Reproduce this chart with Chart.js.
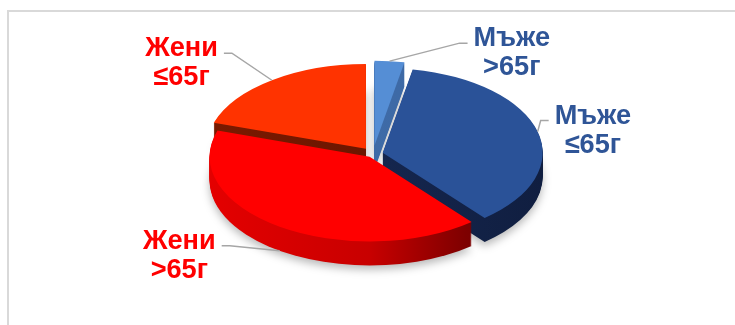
<!DOCTYPE html>
<html>
<head>
  <meta charset="utf-8">
  <script src="https://cdn.jsdelivr.net/npm/chart.js@4.4.1/dist/chart.umd.min.js"></script>
  <style>
    html, body { margin: 0; padding: 0; background: #fff; }
    #wrap { position: relative; width: 735px; height: 325px; overflow: hidden; }
    #frame {
      position: absolute; left: 7px; top: 10px; width: 800px; height: 400px;
      border-left: 2px solid #d9d9d9; border-top: 2px solid #d9d9d9;
    }
    #myChart { position: absolute; left: 0; top: 0; }
  </style>
</head>
<body>
  <div id="wrap">
    <div id="frame"></div>
    <canvas id="myChart" width="735" height="325"></canvas>
  </div>
  <script>
    // data
    var categories = ["Мъже >65г", "Мъже ≤65г", "Жени >65г", "Жени ≤65г"];
    var labelLines = [["Мъже", ">65г"], ["Мъже", "≤65г"], ["Жени", ">65г"], ["Жени", "≤65г"]];
    var shares = [3, 36, 41, 20];

    // styles
    var topColors = ["#558ED5", "#2A5298", "#FF0000", "#FF3300"];
    var textColors = ["#2F5597", "#2F5597", "#FF0000", "#FF0000"];

    var pie3d = {
      id: "pie3d",
      beforeDatasetsDraw: function (chart, args, opts) {
        var ctx = chart.ctx;
        var arcs = chart.getDatasetMeta(0).data;
        var cx = arcs[0].x, cy = arcs[0].y, r = arcs[0].outerRadius;
        var k = opts.tilt;

        var shift = arcs.map(function (a, i) {
          var mid = (a.startAngle + a.endAngle) / 2;
          return { x: Math.cos(mid) * opts.explode[i], y: Math.sin(mid) * opts.explode[i] };
        });

        // side walls
        var walls = opts.walls.map(function (stops) {
          var g = ctx.createLinearGradient(cx - r, 0, cx + r, 0);
          stops.forEach(function (s) { g.addColorStop(s[0], s[1]); });
          return g;
        });
        for (var d = opts.depth; d >= 1; d--) {
          ctx.save();
          ctx.translate(cx, cy + d);
          ctx.scale(1, k);
          ctx.translate(-cx, -cy);
          if (d === opts.depth) {
            ctx.shadowColor = "rgba(0,0,0,0.28)";
            ctx.shadowBlur = 9;
            ctx.shadowOffsetY = 4;
          }
          arcs.forEach(function (a, i) {
            ctx.save();
            ctx.translate(shift[i].x, shift[i].y);
            ctx.beginPath();
            ctx.moveTo(cx, cy);
            ctx.arc(cx, cy, a.outerRadius, a.startAngle, a.endAngle);
            ctx.closePath();
            ctx.fillStyle = walls[i];
            ctx.fill();
            ctx.restore();
          });
          ctx.restore();
        }

        // top faces
        ctx.save();
        ctx.translate(cx, cy);
        ctx.scale(1, k);
        ctx.translate(-cx, -cy);
        arcs.forEach(function (a, i) {
          ctx.save();
          ctx.translate(shift[i].x, shift[i].y);
          a.draw(ctx);
          ctx.restore();
        });
        ctx.restore();
        return false;
      },
      afterDraw: function (chart, args, opts) {
        var ctx = chart.ctx;
        var arcs = chart.getDatasetMeta(0).data;
        var k = opts.tilt;
        ctx.save();
        arcs.forEach(function (a, i) {
          var mid = (a.startAngle + a.endAngle) / 2;
          var rr = a.outerRadius + opts.explode[i];
          var ax = a.x + Math.cos(mid) * rr;
          var ay = a.y + Math.sin(mid) * rr * k + (Math.sin(mid) > 0.3 ? opts.depth : 0);
          var ex = ax + opts.elbows[i][0];
          var ey = ay + opts.elbows[i][1];
          var right = ex > a.x;
          var hx = ex + (right ? 8 : -8);

          ctx.strokeStyle = "#A6A6A6";
          ctx.lineWidth = 1.5;
          ctx.beginPath();
          ctx.moveTo(ax, ay);
          ctx.lineTo(ex, ey);
          ctx.lineTo(hx, ey);
          ctx.stroke();

          ctx.font = "bold 28px 'Liberation Sans', Arial, sans-serif";
          ctx.fillStyle = textColors[i];
          ctx.textBaseline = "alphabetic";
          ctx.textAlign = "center";
          var sx = 0.97;
          var lines = labelLines[i];
          var w = Math.max.apply(null, lines.map(function (t) { return ctx.measureText(t).width; })) * sx;
          var centerX = right ? hx + 6 + w / 2 : hx - 6 - w / 2;
          lines.forEach(function (t, j) {
            ctx.save();
            ctx.translate(centerX, ey + 3 + j * 29);
            ctx.scale(sx, 1);
            ctx.fillText(t, 0, 0);
            ctx.restore();
          });
        });
        ctx.restore();
      }
    };

    new Chart("myChart", {
      type: "pie",
      data: {
        labels: categories,
        datasets: [
          {
            data: shares,
            backgroundColor: topColors,
            borderWidth: 0,
            offset: 0,
          },
        ],
      },
      options: {
        responsive: false,
        animation: false,
        events: [],
        radius: 160,
        layout: { padding: { left: 11, right: 0, top: 0, bottom: 17 } },
        plugins: {
          legend: { display: false },
          tooltip: { enabled: false },
          pie3d: {
            tilt: 0.53,
            depth: 24,
            explode: [16, 10, 6, 12],
            elbows: [[70, -18], [3, -11], [-50, -5], [-40, -27]],
            walls: [
              [[0, "#4372AE"], [1, "#3A64A0"]],
              [[0, "#1A2E5C"], [1, "#101E40"]],
              [[0, "#E40000"], [0.5, "#C80000"], [0.8, "#7E0000"], [1, "#600000"]],
              [[0, "#7A1A00"], [1, "#5E1200"]],
            ],
          },
        },
      },
      plugins: [pie3d],
    });
  </script>
</body>
</html>
